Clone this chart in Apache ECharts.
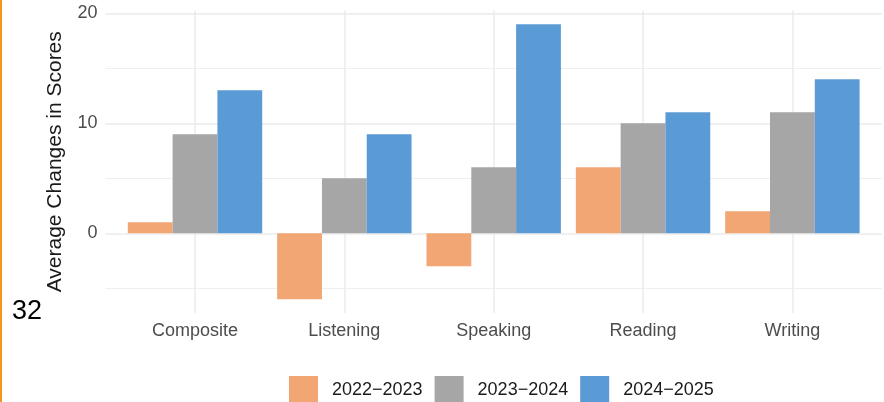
<!DOCTYPE html>
<html>
<head>
<meta charset="utf-8">
<script src="https://cdn.jsdelivr.net/npm/echarts@6/dist/echarts.min.js"></script>
<style>
html,body{margin:0;padding:0;background:#fff;}
#chart{width:884px;height:402px;}
</style>
</head>
<body>
<div id="chart"></div>
<script>
const categories = ['Composite', 'Listening', 'Speaking', 'Reading', 'Writing'];
const seriesNames = ['2022\u22122023', '2023\u22122024', '2024\u22122025'];
const values2022 = [1, -6, -3, 6, 2];
const values2023 = [9, 5, 6, 10, 11];
const values2024 = [13, 9, 19, 11, 14];
const yMajorTicks = [0, 10, 20];
const yMinorTicks = [-5, 5, 15];
const colors = ['#F1A674', '#A6A6A6', '#5B9BD5'];

const positions = categories.map((c, i) => i + 1);
const toPairs = vals => vals.map((v, i) => [positions[i], v]);
const FONT = "'Liberation Sans', Arial, sans-serif";

const chart = echarts.init(document.getElementById('chart'), null, {renderer: 'canvas'});
const allSeries = [values2022, values2023, values2024].map((vals, k) => ({
  name: seriesNames[k],
  type: 'bar',
  xAxisIndex: 0,
  yAxisIndex: 0,
  data: toPairs(vals),
  barWidth: 44.8,
  barGap: '0%',
  itemStyle: {color: colors[k]},
  emphasis: {disabled: true},
  animation: false
}));

chart.setOption({
  animation: false,
  textStyle: {fontFamily: FONT},
  grid: {left: 105.4, right: 2, top: 10.5, bottom: 89, containLabel: false, outerBoundsMode: 'none'},
  legend: {
    data: seriesNames,
    left: 289,
    top: 376,
    padding: 0,
    icon: 'rect',
    itemWidth: 29,
    itemHeight: 29,
    itemGap: 12,
    textStyle: {fontSize: 18, color: '#1a1a1a', fontFamily: FONT, padding: [0, 0, 0, 9]}
  },
  xAxis: {
    type: 'value',
    min: 0.4,
    max: 5.6,
    axisLine: {show: false},
    axisTick: {show: false, customValues: positions},
    axisLabel: {
      customValues: positions,
      formatter: v => categories[Math.round(v) - 1],
      fontSize: 18,
      color: '#4d4d4d',
      margin: 9,
      fontFamily: FONT
    },
    splitLine: {show: true, lineStyle: {color: '#ebebeb', width: 1.5}}
  },
  yAxis: [{
    type: 'value',
    min: -7.25,
    max: 20.25,
    position: 'left',
    axisLine: {show: false},
    axisTick: {show: false, customValues: yMajorTicks},
    axisLabel: {customValues: yMajorTicks, fontSize: 18, color: '#4d4d4d', margin: 8, fontFamily: FONT},
    splitLine: {show: true, lineStyle: {color: '#ebebeb', width: 1.5}},
    name: 'Average Changes in Scores',
    nameLocation: 'middle',
    nameRotate: 90,
    nameGap: 40,
    nameTextStyle: {fontSize: 21, color: '#1a1a1a', fontFamily: FONT}
  }, {
    type: 'value',
    min: -7.25,
    max: 20.25,
    position: 'left',
    axisLine: {show: false},
    axisTick: {show: false, customValues: yMinorTicks},
    axisLabel: {show: false, customValues: yMinorTicks},
    splitLine: {show: true, lineStyle: {color: '#efefef', width: 1}}
  }],
  graphic: [
    {type: 'rect', left: 0, top: 0, shape: {width: 2, height: 402}, style: {fill: '#F7941D'}, z: 100},
    {type: 'text', x: 12, y: 312, style: {text: '32', fill: '#000', font: "27px 'Liberation Sans', Arial, sans-serif", verticalAlign: 'middle', align: 'left'}, z: 100}
  ],
  series: allSeries
});
</script>
</body>
</html>
